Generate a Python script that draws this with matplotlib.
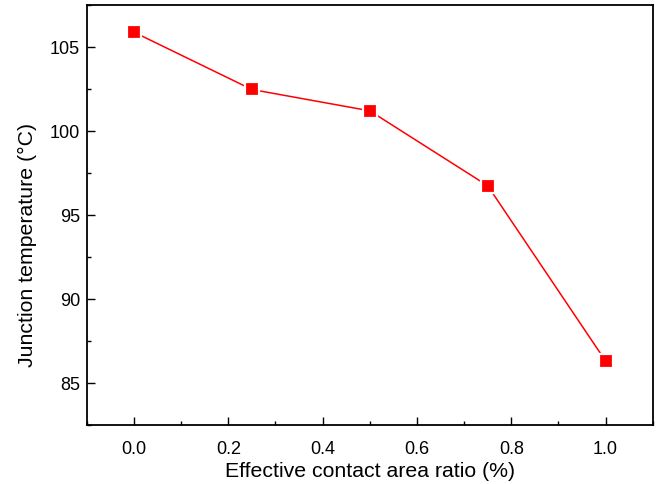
import matplotlib
matplotlib.use('Agg')
import matplotlib.pyplot as plt
from matplotlib.ticker import MultipleLocator

# data
area_ratio = [0.0, 0.25, 0.5, 0.75, 1.0]
junction_temp = [105.87, 102.46, 101.19, 96.73, 86.3]

plt.rcParams['font.family'] = ['Liberation Sans', 'DejaVu Sans']

fig = plt.figure(figsize=(6.58, 4.85), dpi=100)
ax = fig.add_axes([0.132, 0.122, 0.860, 0.866])

ax.plot(area_ratio, junction_temp, color='red', lw=1.1, zorder=2)
ax.plot(area_ratio, junction_temp, ls='none', marker='s', ms=10.5,
        mfc='red', mec='white', mew=1.6, zorder=3)

ax.set_xlim(-0.1, 1.1)
ax.set_ylim(82.5, 107.5)
ax.xaxis.set_major_locator(MultipleLocator(0.2))
ax.xaxis.set_minor_locator(MultipleLocator(0.1))
ax.yaxis.set_major_locator(MultipleLocator(5))
ax.yaxis.set_minor_locator(MultipleLocator(2.5))
ax.tick_params(which='both', direction='in', labelsize=13, width=1)
ax.tick_params(which='major', length=6)
ax.tick_params(which='minor', length=3)
ax.tick_params(axis='x', which='major', pad=11)
ax.tick_params(axis='y', which='major', pad=5)
for s in ax.spines.values():
    s.set_linewidth(1.3)

ax.set_xlabel('Effective contact area ratio (%)', fontsize=15.3, labelpad=3)
ax.set_ylabel('Junction temperature (°C)', fontsize=15.3)
ax.yaxis.set_label_coords(-0.088, 0.431)

fig.savefig('out.png', dpi=100)
